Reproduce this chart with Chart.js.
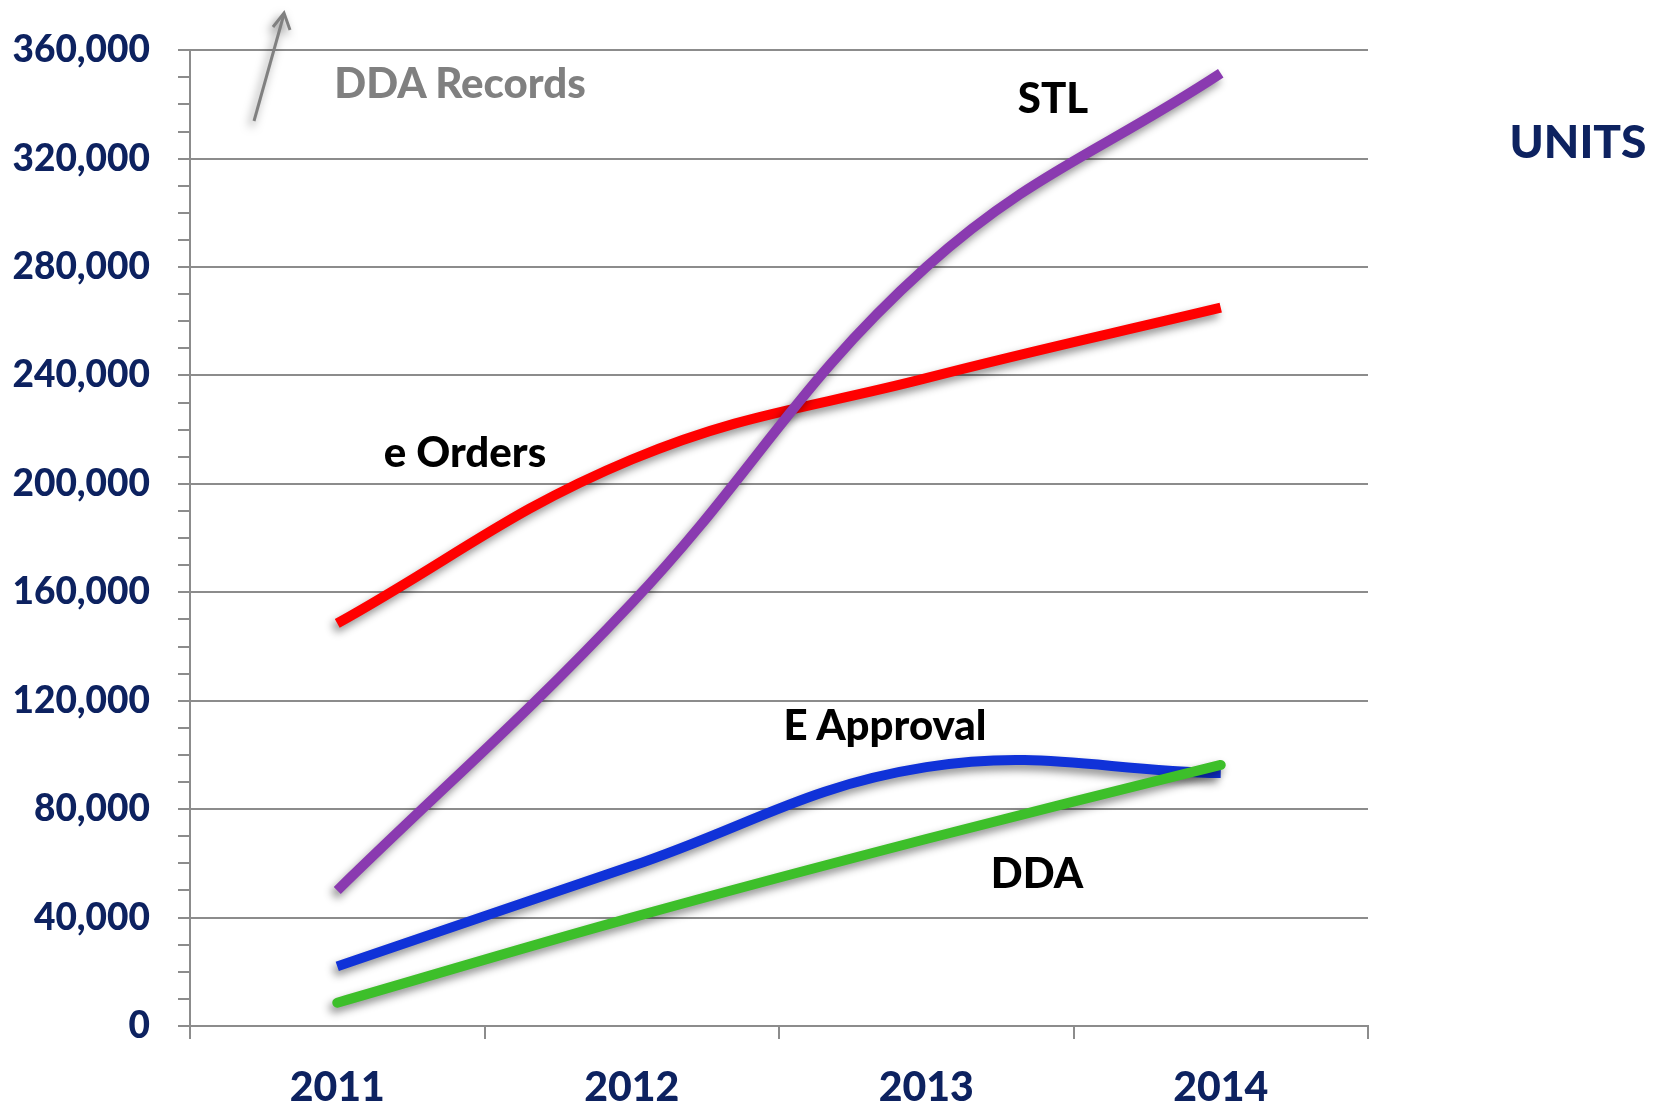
<!DOCTYPE html>
<html><head><meta charset="utf-8">
<script src="https://cdn.jsdelivr.net/npm/chart.js@4.4.1/dist/chart.umd.min.js"></script>
<style>
html,body{margin:0;padding:0;background:#fff;}
#wrap{position:relative;width:1659px;height:1110px;overflow:hidden;background:#fff;}
#c{position:absolute;left:0;top:0;}
.lbl{position:absolute;font-family:Lato,'Open Sans',sans-serif;font-weight:900;white-space:nowrap;transform:translate(-50%,-50%);line-height:1;}
#arrow{position:absolute;left:0;top:0;overflow:visible;}
</style></head><body>
<div id="wrap">
<canvas id="c" width="1659" height="1110"></canvas>
<svg id="arrow" width="400" height="160" style="filter:drop-shadow(-3px 5px 5px rgba(0,0,0,0.5))">
  <line x1="254" y1="121" x2="284" y2="14" stroke="#808080" stroke-width="3"/>
  <polyline points="273,27 284,13 290,30" fill="none" stroke="#808080" stroke-width="3"/>
</svg>
<div class="lbl" style="left:460px;top:82px;font-size:42px;color:#808080">DDA Records</div>
<div class="lbl" style="left:1053px;top:97px;font-size:42px;color:#000">STL</div>
<div class="lbl" style="left:465px;top:451px;font-size:42px;color:#000">e Orders</div>
<div class="lbl" style="left:885px;top:724px;font-size:42px;color:#000">E Approval</div>
<div class="lbl" style="left:1037px;top:872px;font-size:42px;color:#000">DDA</div>
<div class="lbl" style="left:1578px;top:141px;font-size:46px;color:#0d2260">UNITS</div>
</div>
<script>
const years = ['2011', '2012', '2013', '2014'];
const stl = [50000, 156000, 280000, 351500];
const eOrders = [148500, 209000, 239000, 265000];
const eApproval = [22000, 59000, 95500, 93300];
const dda = [8600, 40000, 69000, 96300];
const yMax = 360000;
const yMajorStep = 40000;
const yMinorStep = 10000;

const navy = '#0d2260';
const gridGrey = '#8c8c8c';

const shadowPlugin = {
  id: 'lineShadow',
  beforeDatasetDraw(chart) {
    const ctx = chart.ctx;
    ctx.save();
    ctx.shadowColor = 'rgba(0,0,0,0.45)';
    ctx.shadowBlur = 8;
    ctx.shadowOffsetX = -3;
    ctx.shadowOffsetY = 5;
  },
  afterDatasetDraw(chart) {
    chart.ctx.restore();
  }
};

const mk = (label, data, color, order, cap) => ({
  label, data, borderColor: color, backgroundColor: color,
  borderWidth: 10, pointRadius: 0, tension: 0.4, fill: false,
  borderCapStyle: cap, order
});

new Chart(document.getElementById('c'), {
  type: 'line',
  data: {
    labels: years,
    datasets: [
      mk('e Orders', eOrders, '#ff0000', 4, 'butt'),
      mk('STL', stl, '#8a3ab0', 3, 'butt'),
      mk('E Approval', eApproval, '#1032d8', 2, 'butt'),
      mk('DDA', dda, '#3dbf2a', 1, 'round')
    ]
  },
  plugins: [shadowPlugin],
  options: {
    responsive: false,
    animation: false,
    layout: { padding: { left: 0, top: 49, right: 291, bottom: 0 } },
    plugins: { legend: { display: false }, tooltip: { enabled: false } },
    scales: {
      x: {
        offset: true,
        grid: { offset: true, drawOnChartArea: false, drawTicks: true, tickLength: 13, color: gridGrey, lineWidth: 2 },
        border: { color: gridGrey, width: 2 },
        ticks: { color: navy, font: { family: 'Lato', weight: '900', size: 41 }, padding: 24, maxRotation: 0 },
        afterFit(s) { s.height = 1110 - 1026; }
      },
      y: {
        min: 0, max: yMax,
        grid: {
          color: (c) => (c.tick && c.tick.value % yMajorStep === 0) ? gridGrey : 'rgba(0,0,0,0)',
          tickColor: gridGrey, lineWidth: 2, tickLength: 12, drawTicks: true
        },
        border: { color: gridGrey, width: 2 },
        ticks: {
          stepSize: yMinorStep, autoSkip: false, padding: 28,
          color: navy, font: { family: 'Lato', weight: '900', size: 37 },
          callback: (v) => v % yMajorStep === 0 ? v.toLocaleString('en-US') : ''
        },
        afterFit(s) { s.width = 190; }
      }
    }
  }
});
</script>
</body></html>
